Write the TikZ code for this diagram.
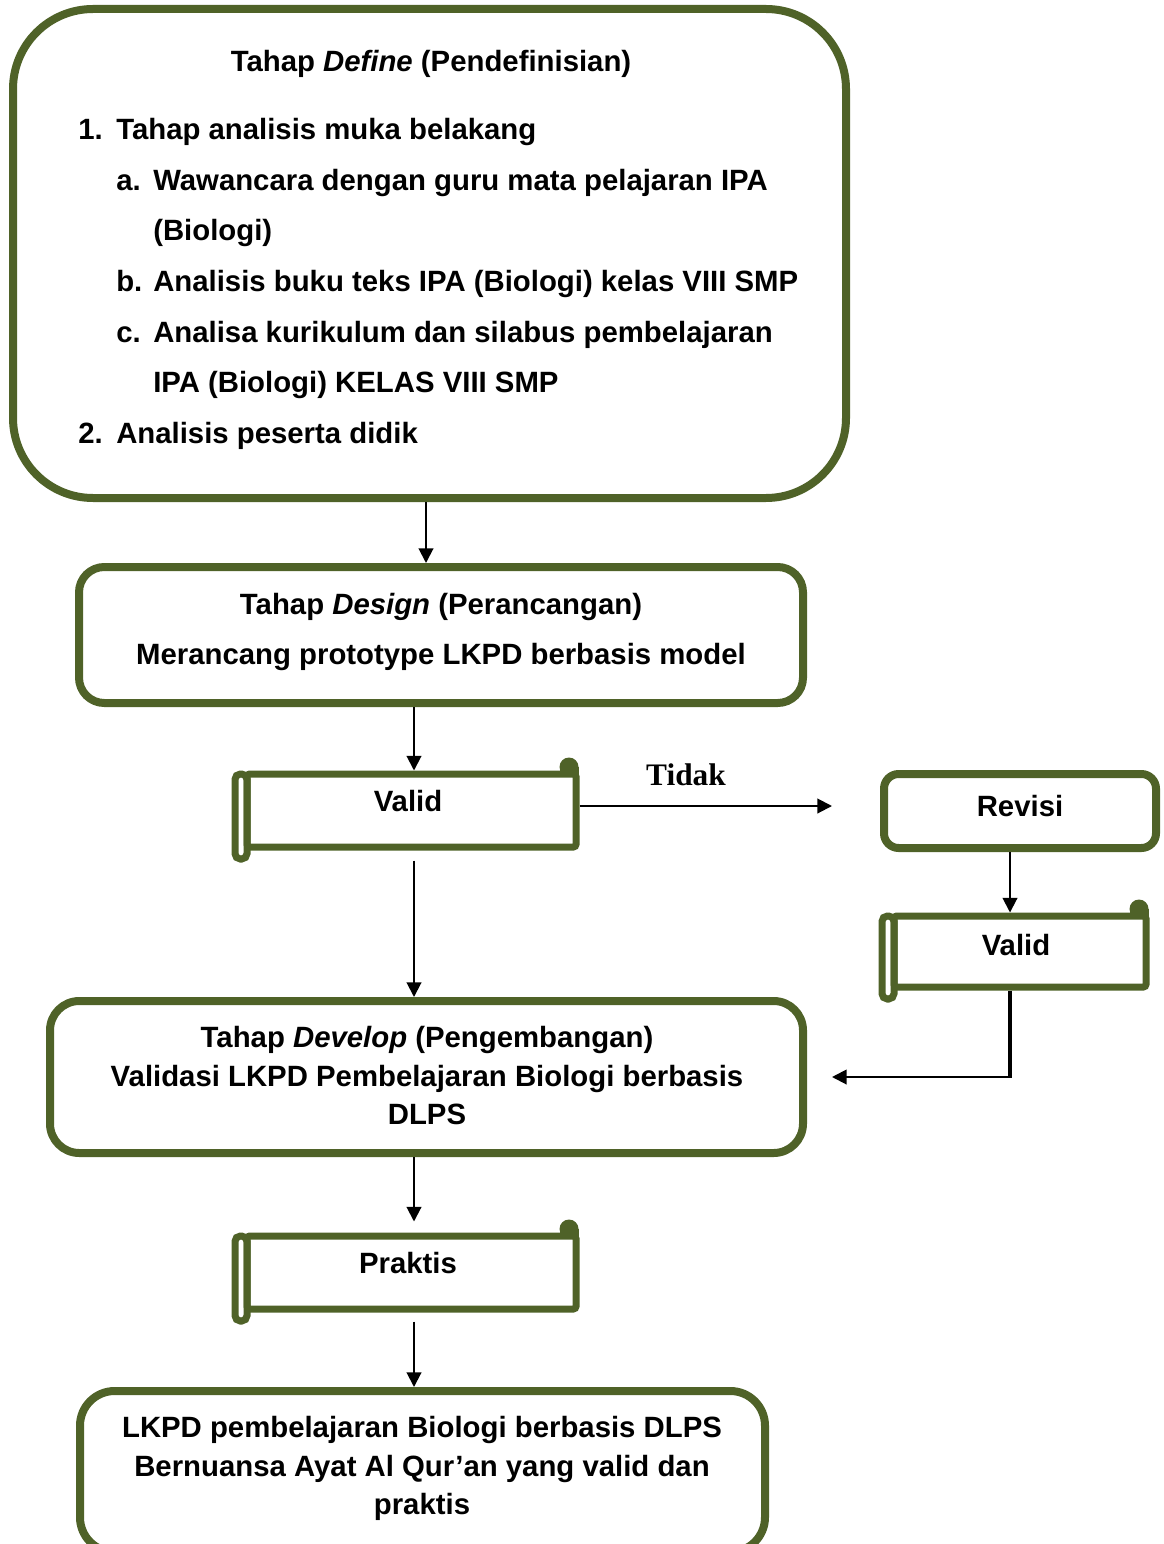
\documentclass[tikz,border=0pt]{standalone}
\usepackage{fontspec}
\setmainfont{Liberation Sans}
\newfontfamily\tidakfont{Liberation Serif}
\usepackage{xcolor}
\definecolor{boxgreen}{HTML}{4F6228}
\usetikzlibrary{arrows.meta,fit,calc}

% scroll: name, x1, y1, x2, y2, bottom of the curl
\newcommand{\scrollshape}[6]{%
	\draw [scrollline, rounded corners=4pt] ({#2-12},#3) rectangle (#2,#6);
	\node [scrollline, rounded corners=2pt, inner sep=0pt, fit={(#2,#3) (#4,#5)}] (#1) {};
	\fill [boxgreen] ({#4-16.5},#3) rectangle ({#4+2.5},{#3-7});
	\fill [boxgreen] ({#4-7},{#3-7}) circle (9.5);
}

\begin{document}
\begin{tikzpicture}[x=0.75pt,y=0.75pt,yscale=-1,xscale=1,
	box/.style={draw=boxgreen, line width=6pt, inner sep=0pt},
	scrollline/.style={draw=boxgreen, line width=5.25pt},
	txt/.style={font=\fontsize{22}{26}\selectfont\bfseries, inner sep=0pt, anchor=base},
	item/.style={txt, anchor=base west},
	arr/.style={line width=1.5pt, -{Triangle[length=11pt,width=11pt]}}]
	\useasboundingbox (0,0) rectangle (1163,1544);

	% boxes
	\node [box, rounded corners=60pt, fit={(13,9) (846,498)}] (define) {};
	\node [box, rounded corners=19pt, fit={(79,567) (803,703)}] (design) {};
	\node [box, rounded corners=11pt, fit={(884,774) (1156,848)}] (revisi) {};
	\node [box, rounded corners=22pt, fit={(50,1001) (803,1153)}] (develop) {};
	\node [box, rounded corners=26pt, fit={(80,1391) (765,1552)}] (hasil) {};
	\scrollshape{valid}{247}{774}{576}{847}{859}
	\scrollshape{validrev}{894}{916}{1146}{987}{999}
	\scrollshape{praktis}{247}{1236}{576}{1309}{1321}

	% texts
	\node [txt] (tdefine) at (431,72) {Tahap \textit{Define} (Pendefinisian)};
	\node [item] (n1) at (78,140) {1.};
	\node [item] (l1) at (116,140) {Tahap analisis muka belakang};
	\node [item] (na) at (116,191) {a.};
	\node [item] (la) at (153,191) {Wawancara dengan guru mata pelajaran IPA};
	\node [item] (la2) at (153,241) {(Biologi)};
	\node [item] (nb) at (116,292) {b.};
	\node [item] (lb) at (153,292) {Analisis buku teks IPA (Biologi) kelas VIII SMP};
	\node [item] (nc) at (116,342) {c.};
	\node [item] (lc) at (153,342) {Analisa kurikulum dan silabus pembelajaran};
	\node [item] (lc2) at (153,392) {IPA (Biologi) KELAS VIII SMP};
	\node [item] (n2) at (78,443) {2.};
	\node [item] (l2) at (116,443) {Analisis peserta didik};

	\node [txt] (tdesign) at (441,614) {Tahap \textit{Design} (Perancangan)};
	\node [txt] (tdesign2) at (441,664) {Merancang prototype LKPD berbasis model};
	\node [txt] (tvalid) at (408,811) {Valid};
	\node [txt, font=\tidakfont\fontsize{23.5}{28}\selectfont\bfseries] (tidak) at (686,785) {Tidak};
	\node [txt] (trevisi) at (1020,816) {Revisi};
	\node [txt] (tvalidrev) at (1016,955) {Valid};
	\node [txt] (tdevelop) at (427,1047) {Tahap \textit{Develop} (Pengembangan)};
	\node [txt] (tdevelop2) at (427,1086) {Validasi LKPD Pembelajaran Biologi berbasis};
	\node [txt] (tdevelop3) at (427,1124) {DLPS};
	\node [txt] (tpraktis) at (408,1273) {Praktis};
	\node [txt] (thasil) at (422,1437) {LKPD pembelajaran Biologi berbasis DLPS};
	\node [txt] (thasil2) at (422,1476) {Bernuansa Ayat Al Qur’an yang valid dan};
	\node [txt] (thasil3) at (422,1514) {praktis};

	% connectors
	\coordinate (xa) at (426,0);
	\coordinate (xb) at (414,0);
	\coordinate (xc) at (1010,0);
	\coordinate (xl) at (832,0);
	\coordinate (yr) at (0,806);
	\coordinate (yd) at (0,1077);
	\draw [arr] (define.south -| xa) -- (design.north -| xa);
	\draw [arr] (design.south -| xb) -- (valid.north -| xb);
	\draw [arr] (valid.east |- yr) -- (xl |- yr);
	\draw [arr] ($(valid.south -| xb)+(0,10)$) -- (develop.north -| xb);
	\draw [arr] (revisi.south -| xc) -- (validrev.north -| xc);
	\draw [line width=3.5pt] (validrev.south -| xc) -- ($(xc |- yd)+(0,1)$);
	\draw [arr] (xc |- yd) -- (xl |- yd);
	\draw [arr] (develop.south -| xb) -- ($(praktis.north -| xb)+(0,-11)$);
	\draw [arr] ($(praktis.south -| xb)+(0,9)$) -- (hasil.north -| xb);
\end{tikzpicture}
\end{document}
